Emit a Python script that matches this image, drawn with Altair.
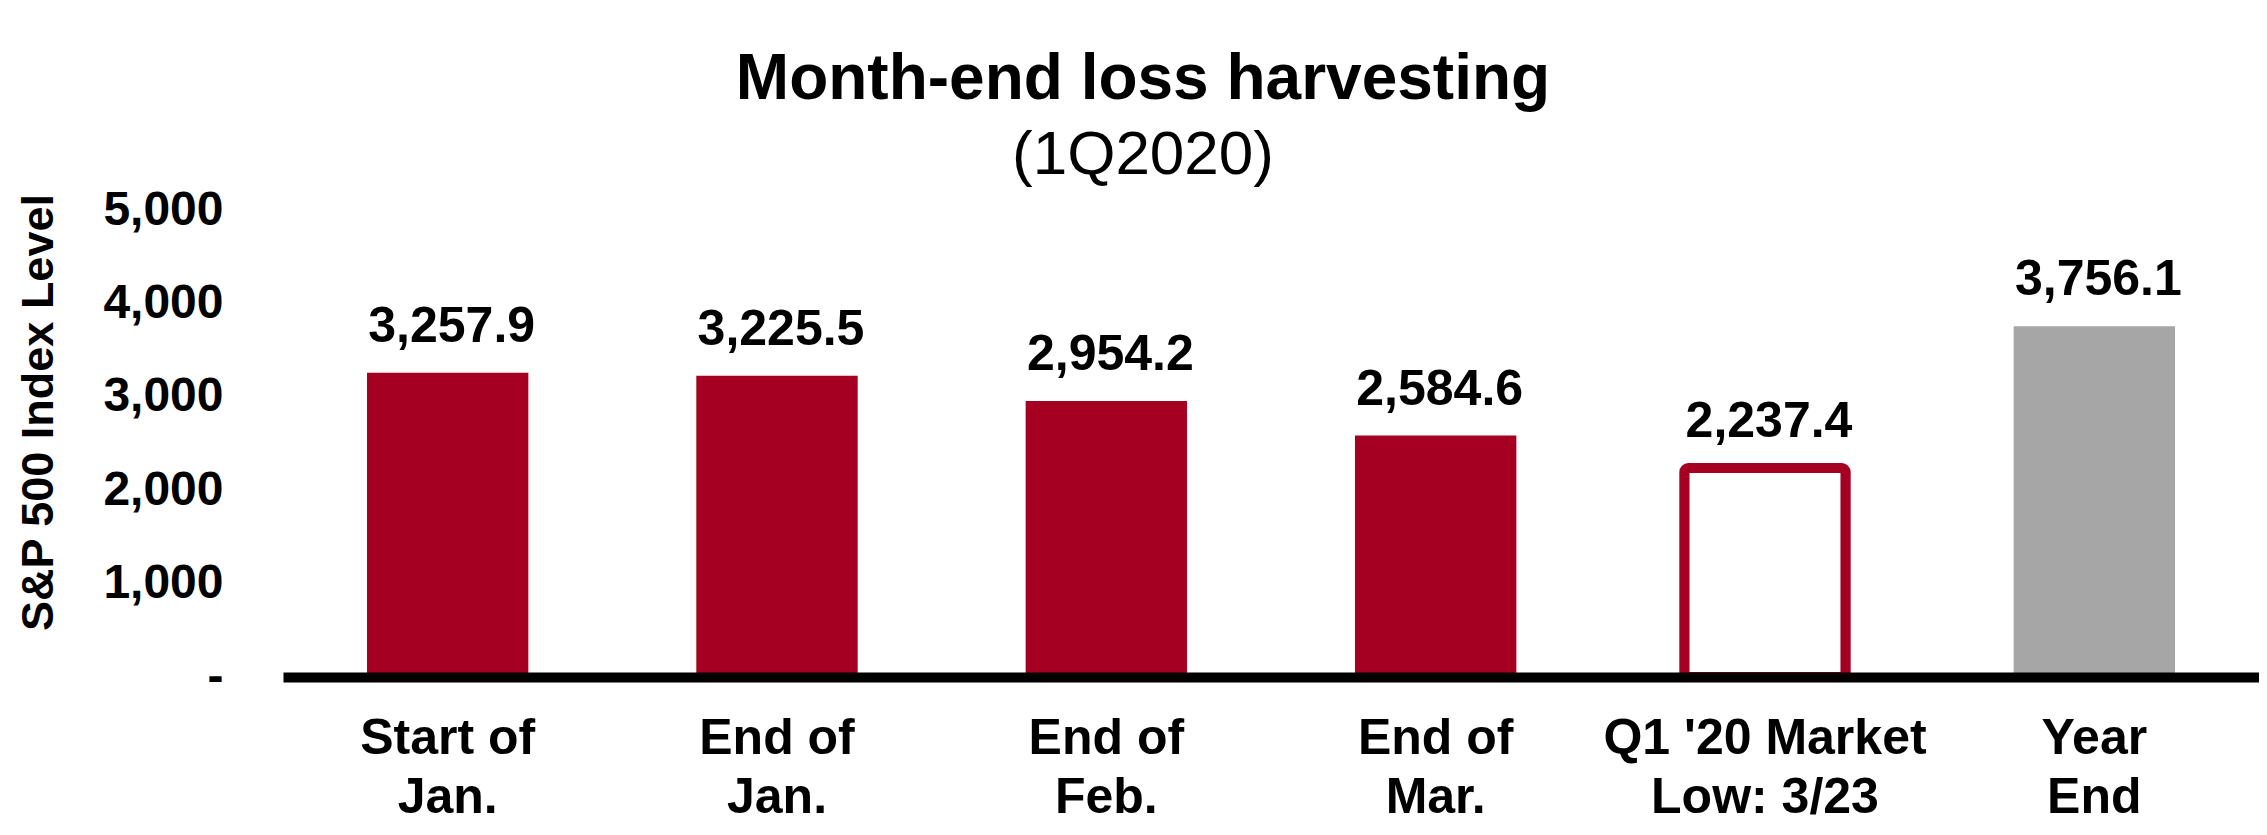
import altair as alt
import pandas as pd

# ---- data ----
categories = ["Start of\nJan.", "End of\nJan.", "End of\nFeb.", "End of\nMar.",
              "Q1 '20 Market\nLow: 3/23", "Year\nEnd"]
values = [3257.9, 3225.5, 2954.2, 2584.6, 2237.4, 3756.1]
kinds = ["month", "month", "month", "month", "low", "year"]
y_ticks = [0, 1000, 2000, 3000, 4000, 5000]

df = pd.DataFrame({"cat": categories, "value": values, "kind": kinds})

RED = "#A50021"
GRAY = "#A6A6A6"
FONT = "Liberation Sans"

x_enc = alt.X(
    "cat:N", sort=categories, title=None,
    scale=alt.Scale(paddingInner=0.51, paddingOuter=0.255),
    axis=alt.Axis(
        labelExpr="split(datum.label, '\\n')", labelAngle=0, labelFont=FONT,
        labelFontSize=50, labelFontWeight="bold", labelColor="black",
        labelPadding=36, labelLineHeight=59, labelBaseline="top", labelLimit=1000,
        ticks=False, tickSize=0, domainColor="black", domainWidth=10, zindex=1,
        grid=False,
    ),
)
y_enc = alt.Y(
    "value:Q", title="S&P 500 Index Level",
    scale=alt.Scale(domain=[0, 5000], nice=False, zero=True),
    axis=alt.Axis(
        values=y_ticks,
        labelExpr="datum.value == 0 ? '-' : format(datum.value, ',')",
        labelFont=FONT, labelFontSize=48, labelFontWeight="bold", labelColor="black",
        labelPadding=60, labelOverlap=False, domain=False, ticks=False, tickSize=0,
        grid=False,
        titleFont=FONT, titleFontSize=45, titleFontWeight="bold", titleColor="black",
        titleAngle=270, titleX=-245, titleY=202, titleAlign="center",
        titleBaseline="middle",
    ),
)

base = alt.Chart(df).encode(x=x_enc, y=y_enc)

filled = base.transform_filter("datum.kind != 'low'").mark_bar().encode(
    color=alt.Color("kind:N", scale=alt.Scale(domain=["month", "year"], range=[RED, GRAY]),
                    legend=None)
)
outlined = base.transform_filter("datum.kind == 'low'").mark_bar(
    fill="white", stroke=RED, strokeWidth=10, cornerRadius=4
)
labels = base.mark_text(
    font=FONT, fontSize=50, fontWeight="bold", baseline="alphabetic",
    dy=-31, dx=4, color="black"
).encode(text=alt.Text("value:Q", format=",.1f"))

chart = alt.layer(filled, outlined, labels).properties(
    width=1976, height=467,
    background="white",
    autosize=alt.AutoSizeParams(type="none"),
    padding={"left": 275, "top": 202, "right": 0, "bottom": 150},
    title=alt.TitleParams(
        text="Month-end loss harvesting", subtitle="(1Q2020)",
        font=FONT, fontSize=64, fontWeight="bold", color="black",
        subtitleFont=FONT, subtitleFontSize=62, subtitleFontWeight="normal",
        subtitleColor="black", subtitlePadding=13,
        anchor="middle", dx=-128, offset=0,
    ),
).configure_view(stroke=None, strokeWidth=0)

chart.save("out.html", embed_options={"renderer": "svg", "actions": False})
